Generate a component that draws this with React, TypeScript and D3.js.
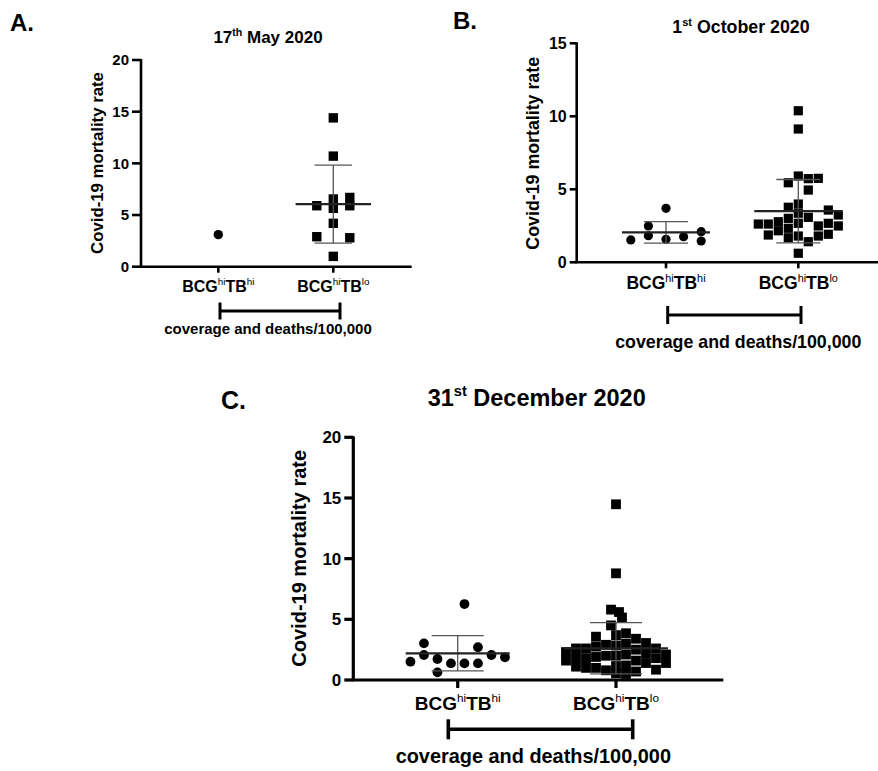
import React from "react";
import * as d3 from "d3";

const FONT = "'Liberation Sans', Arial, Helvetica, sans-serif";

// ---------- DATA ----------
const categories = ["BCGhiTBhi", "BCGhiTBlo"];
const catMain = ["BCG", "TB"];
const catSups = [["hi", "hi"], ["hi", "lo"]];

// Panel A: 17th May 2020
const mayHiValues = [3.1];
const mayHiLanes = [0];
const mayLoValues = [14.4, 10.7, 6.55, 5.65, 5.9, 6.7, 5.9, 4.2, 2.9, 2.8, 1.0];
const mayLoLanes = [0, 0, 0, 0, -1, 1, 1, 0, -1, 1, 0];
const mayMeans = [null, 6.05];
const maySDs = [null, 3.77];

// Panel B: 1st October 2020
const octHiValues = [3.7, 2.49, 1.53, 1.82, 1.58, 1.75, 2.1, 1.46];
const octHiLanes = [0, -1, -2, -1, 0, 1, 2, 2];
const octLoValues = [10.38, 9.13, 5.45, 5.91, 5.73, 5.75, 4.95, 3.77, 3.99, 3.36, 3.58, 3.24,
  2.62, 2.62, 2.78, 2.16, 3.01, 2.33, 2.67, 3.08, 2.49, 2.67, 2.49, 1.87, 1.68, 1.8, 1.41, 1.8, 1.92, 0.62];
const octLoLanes = [0, 0, -1, 0, 1, 2, 1, -1, 0, 0, 3, 4,
  -4, -3, -2, -2, -1, -1, 0, 1, 2, 3, 4, -3, -1, 0, 1, 2, 3, 0];
const octMeans = [2.05, 3.5];
const octSDs = [0.74, 2.17];

// Panel C: 31st December 2020
const decHiValues = [6.26, 3.02, 2.06, 1.51, 1.73, 0.63, 1.37, 1.37, 1.37, 2.7, 2.06, 1.87];
const decHiLanes = [0.5, -2.5, -2.5, -3.5, -1.5, -1.5, -0.5, 0.5, 1.5, 1.5, 2.5, 3.5];
const decLoValues = [14.48, 8.79, 5.8, 5.6, 5.15, 4.5,
  2.3, 1.6,
  2.6, 1.85, 1.1,
  2.6, 1.8, 1.0,
  3.57, 2.75, 1.9, 1.0,
  2.9, 2.0, 0.8,
  3.7, 2.85, 2.0, 1.15, 0.55,
  3.85, 3.0, 2.1, 1.2, 0.5,
  3.4, 2.5, 1.6, 0.7,
  3.05, 2.2, 1.4,
  2.6, 1.8, 0.85,
  2.1, 1.4];
const decLoLanes = [0, 0, -0.5, 0.3, 0.6, -0.5,
  -5, -5,
  -4, -4, -4,
  -3, -3, -3,
  -2, -2, -2, -2,
  -1, -1, -1,
  0, 0, 0, 0, 0,
  1, 1, 1, 1, 1,
  2, 2, 2, 2,
  3, 3, 3,
  4, 4, 4,
  5, 5];
const decMeans = [2.2, 2.61];
const decSDs = [1.45, 2.11];

const titleA = ["17", "th", " May 2020"];
const titleB = ["1", "st", " October 2020"];
const titleC = ["31", "st", " December 2020"];
const ticksA = [0, 5, 10, 15, 20];
const ticksB = [0, 5, 10, 15];
const ticksC = [0, 5, 10, 15, 20];
const yLabel = "Covid-19 mortality rate";
const xNote = "coverage and deaths/100,000";

// ---------- LAYOUT ----------
const panels = [
  {
    letter: "A.", letterPos: [10, 31], letterSize: 24,
    title: titleA, titlePos: [268, 43], titleSize: 17,
    left: 141, right: 411.7, top: 60, bottom: 266.7, yMax: 20, ticks: ticksA,
    catRange: [218.3, 333.3], tickLen: 9, tickSize: 15, axisW: 2.6,
    yLabelPos: [103, 163], yLabelSize: 16.8,
    catLabelY: 291.5, catSize: 16, catTick: 6,
    bracket: [220, 340, 311, 8.5], bracketW: 3,
    notePos: [268, 334], noteSize: 15,
    groups: [
      { values: mayHiValues, lanes: mayHiLanes, shape: "circle" },
      { values: mayLoValues, lanes: mayLoLanes, shape: "square" },
    ],
    means: mayMeans, sds: maySDs, laneW: 16.5, marker: 9.4, meanHalf: 37.7, capHalf: 18.7,
  },
  {
    letter: "B.", letterPos: [453, 28.5], letterSize: 24,
    title: titleB, titlePos: [741, 33.3], titleSize: 17.8,
    left: 576.7, right: 878, top: 43.3, bottom: 262.3, yMax: 15, ticks: ticksB,
    catRange: [666, 798.3], tickLen: 7, tickSize: 16, axisW: 2.6,
    yLabelPos: [539, 153.3], yLabelSize: 17.8,
    catLabelY: 289.3, catSize: 17.5, catTick: 6,
    bracket: [667.7, 801, 315, 9], bracketW: 3,
    notePos: [738.3, 348], noteSize: 17.8,
    groups: [
      { values: octHiValues, lanes: octHiLanes, shape: "circle", laneW: 17.6 },
      { values: octLoValues, lanes: octLoLanes, shape: "square", laneW: 10 },
    ],
    means: octMeans, sds: octSDs, laneW: 10, marker: 9.2, meanHalf: 44, capHalf: 22,
  },
  {
    letter: "C.", letterPos: [221, 409.3], letterSize: 25,
    title: titleC, titlePos: [536.7, 406], titleSize: 23.5,
    left: 353.3, right: 723.3, top: 437.3, bottom: 680, yMax: 20, ticks: ticksC,
    catRange: [457.7, 616], tickLen: 9, tickSize: 17, axisW: 3.2,
    yLabelPos: [305.5, 558.3], yLabelSize: 20,
    catLabelY: 710, catSize: 19, catTick: 8,
    bracket: [448.3, 632.7, 729.3, 10], bracketW: 3.6,
    notePos: [533.3, 763.3], noteSize: 19.9,
    groups: [
      { values: decHiValues, lanes: decHiLanes, shape: "circle", laneW: 13.5 },
      { values: decLoValues, lanes: decLoLanes, shape: "square", laneW: 10 },
    ],
    means: decMeans, sds: decSDs, laneW: 10, marker: 9.8, meanHalf: 52, capHalf: 26,
  },
];

function CatLabel({ x, y, idx, size }: any) {
  const sup = size * 0.62;
  const up = size * 0.42;
  return (
    <text x={x} y={y} textAnchor="middle" fontFamily={FONT} fontSize={size} fontWeight="bold" fill="#000">
      <tspan>{catMain[0]}</tspan>
      <tspan dy={-up} fontSize={sup} fontWeight="normal">{catSups[idx][0]}</tspan>
      <tspan dy={up}>{catMain[1]}</tspan>
      <tspan dy={-up} fontSize={sup} fontWeight="normal">{catSups[idx][1]}</tspan>
    </text>
  );
}

function Panel({ p }: any) {
  const y = d3.scaleLinear().domain([0, p.yMax]).range([p.bottom, p.top]);
  const x = d3.scalePoint<string>().domain(categories).range(p.catRange).padding(0);
  const [bx1, bx2, by, bh] = p.bracket;
  const tsup = p.titleSize * 0.62;
  const tup = p.titleSize * 0.42;
  return (
    <g>
      <text x={p.letterPos[0]} y={p.letterPos[1]} fontFamily={FONT} fontWeight="bold" fontSize={p.letterSize}>{p.letter}</text>
      <text x={p.titlePos[0]} y={p.titlePos[1]} textAnchor="middle" fontFamily={FONT} fontWeight="bold" fontSize={p.titleSize}>
        <tspan>{p.title[0]}</tspan>
        <tspan dy={-tup} fontSize={tsup}>{p.title[1]}</tspan>
        <tspan dy={tup}>{p.title[2]}</tspan>
      </text>
      {/* y axis */}
      <line x1={p.left} x2={p.left} y1={y(p.yMax) - 1} y2={p.bottom} stroke="#000" strokeWidth={p.axisW} />
      {p.ticks.map((t: number) => (
        <g key={t}>
          <line x1={p.left - p.tickLen} x2={p.left} y1={y(t)} y2={y(t)} stroke="#000" strokeWidth={p.axisW} />
          <text x={p.left - p.tickLen - 3} y={y(t)} dy="0.36em" textAnchor="end" fontFamily={FONT} fontWeight="bold" fontSize={p.tickSize}>{t}</text>
        </g>
      ))}
      <text transform={`translate(${p.yLabelPos[0]},${p.yLabelPos[1]}) rotate(-90)`} textAnchor="middle" fontFamily={FONT} fontWeight="bold" fontSize={p.yLabelSize}>{yLabel}</text>
      {/* x axis */}
      <line x1={p.left - p.axisW / 2} x2={p.right} y1={p.bottom} y2={p.bottom} stroke="#000" strokeWidth={p.axisW} />
      {categories.map((c, i) => (
        <g key={c}>
          <line x1={x(c)} x2={x(c)} y1={p.bottom} y2={p.bottom + p.catTick} stroke="#000" strokeWidth={p.axisW} />
          <CatLabel x={x(c)} y={p.catLabelY} idx={i} size={p.catSize} />
        </g>
      ))}
      {/* points */}
      {p.groups.map((g: any, gi: number) => {
        const cx0 = x(categories[gi]) as number;
        const lw = g.laneW ?? p.laneW;
        return (
          <g key={gi}>
            {g.values.map((v: number, i: number) => {
              const cx = cx0 + g.lanes[i] * lw;
              const cy = y(v);
              return g.shape === "circle" ? (
                <circle key={i} cx={cx} cy={cy} r={p.marker / 2} fill="#000" />
              ) : (
                <rect key={i} x={cx - p.marker / 2} y={cy - p.marker / 2} width={p.marker} height={p.marker} fill="#000" />
              );
            })}
          </g>
        );
      })}
      {/* mean +/- SD */}
      {categories.map((c, gi) => {
        const m = p.means[gi];
        const s = p.sds[gi];
        if (m == null || s == null) return null;
        const cx = x(c) as number;
        return (
          <g key={"e" + gi}>
            <line x1={cx} x2={cx} y1={y(m + s)} y2={y(m - s)} stroke="#555" strokeWidth={1.3} />
            <line x1={cx - p.capHalf} x2={cx + p.capHalf} y1={y(m + s)} y2={y(m + s)} stroke="#555" strokeWidth={1.3} />
            <line x1={cx - p.capHalf} x2={cx + p.capHalf} y1={y(m - s)} y2={y(m - s)} stroke="#555" strokeWidth={1.3} />
            <line x1={cx - p.meanHalf} x2={cx + p.meanHalf} y1={y(m)} y2={y(m)} stroke="#222" strokeWidth={2.2} />
          </g>
        );
      })}
      {/* bracket */}
      <line x1={bx1} x2={bx2} y1={by} y2={by} stroke="#000" strokeWidth={p.bracketW} />
      <line x1={bx1} x2={bx1} y1={by - bh} y2={by + bh} stroke="#000" strokeWidth={p.bracketW} />
      <line x1={bx2} x2={bx2} y1={by - bh} y2={by + bh} stroke="#000" strokeWidth={p.bracketW} />
      <text x={p.notePos[0]} y={p.notePos[1]} textAnchor="middle" fontFamily={FONT} fontWeight="bold" fontSize={p.noteSize}>{xNote}</text>
    </g>
  );
}

export default function App() {
  return (
    <svg width={878} height={771} style={{ position: "absolute", left: 0, top: 0, background: "#fff" }}>
      <rect width={878} height={771} fill="#fff" />
      {panels.map((p, i) => (
        <Panel key={i} p={p} />
      ))}
    </svg>
  );
}
